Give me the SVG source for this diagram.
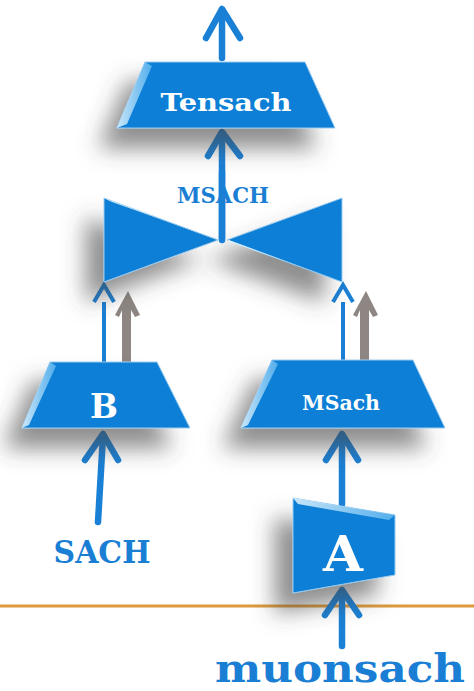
<svg xmlns="http://www.w3.org/2000/svg" width="474" height="691" viewBox="0 0 474 691">
<defs>
<filter id="sh" x="-100%" y="-100%" width="300%" height="300%">
<feGaussianBlur in="SourceAlpha" stdDeviation="11"/>
<feOffset dx="-18" dy="20" result="b"/>
<feFlood flood-color="#444" flood-opacity="0.6"/>
<feComposite in2="b" operator="in"/>
<feMerge><feMergeNode/><feMergeNode in="SourceGraphic"/></feMerge>
</filter>
<linearGradient id="hl" x1="0" y1="0" x2="1" y2="0">
<stop offset="0" stop-color="#e8f8ff"/>
<stop offset="1" stop-color="#5fb6f0"/>
</linearGradient>
<style>
.node{fill:#0a7fd6;stroke:#9ccbee;stroke-width:1}
.bev{fill:url(#hl);opacity:.85}
.mono{font-family:"DejaVu Serif","Liberation Serif",serif;font-weight:bold;fill:#fff;text-anchor:middle}
.lbl{font-family:"DejaVu Serif","Liberation Serif",serif;font-weight:bold;fill:#1a7fd4;text-anchor:middle}
.thick{stroke:#1a80d6;stroke-width:6.5;stroke-linecap:round;stroke-linejoin:round;fill:none}
.thin{stroke:#1a80d6;stroke-width:4;fill:none}
.gray{fill:#8e8682}
</style>
</defs>

<line x1="0" y1="606" x2="474" y2="606" stroke="#dc9a3c" stroke-width="3"/>

<g id="connectors">
<line class="thick" x1="222" y1="58" x2="222" y2="10"/>
<polyline class="thick" points="206,38 222,9 240,38"/>
<line class="thick" x1="222" y1="238" x2="222" y2="134"/>
<polyline class="thick" points="208,156 222,132 240,156"/>
<line class="thin" x1="104" y1="302" x2="104" y2="362"/>
<polyline class="thin" points="94,302 104,285 114,302" stroke-linejoin="miter"/>
<polygon class="gray" points="128,291 140,315 135,317 131,310 131,374 122,374 122,310 119,317 115,315"/>
<line class="thin" x1="343" y1="302" x2="343" y2="360"/>
<polyline class="thin" points="333,302 343,285 353,302" stroke-linejoin="miter"/>
<polygon class="gray" points="366,291 378,315 373,317 369,310 369,360 360,360 360,310 357,317 353,315"/>
<line class="thick" x1="98" y1="522" x2="103" y2="436"/>
<polyline class="thick" points="85,460 103,434 118,460"/>
<line class="thick" x1="342" y1="504" x2="342" y2="436"/>
<polyline class="thick" points="326,460 342,434 358,460"/>
<line class="thick" x1="342" y1="646" x2="342" y2="592"/>
<polyline class="thick" points="325,615 342,590 359,615"/>
</g>

<g id="node-tensach">
<polygon class="node" points="145,62 305,62 335,128 117,128" filter="url(#sh)"/>
<polygon class="bev" points="145,62 152,66 127,124 117,128"/>
<text class="mono" x="226" y="111" font-size="24" textLength="131" lengthAdjust="spacingAndGlyphs">Tensach</text>
</g>

<g id="node-msach-join">
<polygon class="node" points="104,198 218,240 104,282" filter="url(#sh)"/>
<polygon class="node" points="227,240 342,198 342,282" filter="url(#sh)"/>
<polygon class="bev" points="104,198 112,202 216,239 218,240"/>
<polygon class="bev" points="227,241 330,277 342,282 229,240" opacity=".7"/>
<text class="lbl" x="223" y="203" font-size="22" textLength="92" lengthAdjust="spacingAndGlyphs">MSACH</text>
<line class="thick" x1="222" y1="172" x2="222" y2="240" stroke-linecap="butt"/>
</g>

<g id="node-b">
<polygon class="node" points="50,362 157,362 190,428 22,428" filter="url(#sh)"/>
<polygon class="bev" points="50,362 56,366 29,425 22,428"/>
<text class="mono" x="104" y="418" font-size="34" textLength="28" lengthAdjust="spacingAndGlyphs">B</text>
</g>

<g id="node-msach">
<polygon class="node" points="272,360 413,360 445,428 241,428" filter="url(#sh)"/>
<polygon class="bev" points="272,360 278,364 248,425 241,428"/>
<text class="mono" x="341" y="410" font-size="21" textLength="78" lengthAdjust="spacingAndGlyphs">MSach</text>
</g>

<g id="node-a">
<polygon class="node" points="293,498 395,515 395,575 293,593" filter="url(#sh)"/>
<polygon class="bev" points="293,498 395,515 389,520 298,504" opacity=".7"/>
<text class="mono" x="343" y="571" font-size="49" textLength="40" lengthAdjust="spacingAndGlyphs">A</text>
</g>

<g id="labels">
<text class="lbl" x="102" y="563" font-size="31" textLength="97" lengthAdjust="spacingAndGlyphs">SACH</text>
<text class="lbl" x="340" y="682" font-size="40" textLength="250" lengthAdjust="spacingAndGlyphs">muonsach</text>
</g>
</svg>
